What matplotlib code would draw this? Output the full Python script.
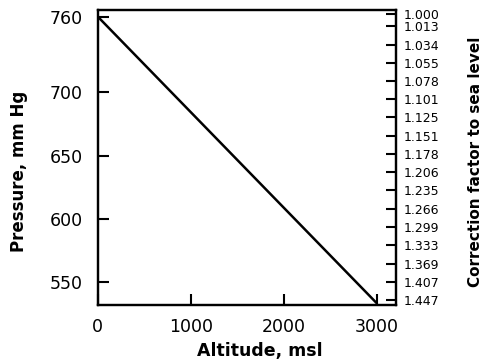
import matplotlib
matplotlib.use("Agg")
import matplotlib.pyplot as plt

# Data
altitude = [0, 3000]            # m above mean sea level
pressure = [760, 533]           # mm Hg
x_ticks = [0, 1000, 2000, 3000]
y_ticks = [550, 600, 650, 700, 760]
correction = ["1.000", "1.013", "1.034", "1.055", "1.078", "1.101", "1.125",
              "1.151", "1.178", "1.206", "1.235", "1.266", "1.299", "1.333",
              "1.369", "1.407", "1.447"]

fig = plt.figure(figsize=(4.82, 3.62), dpi=100)
ax = fig.add_axes([0.203, 0.157, 0.619, 0.815])

ax.plot(altitude, pressure, color='black', linewidth=1.8, solid_capstyle='butt')
ax.set_xlim(0, 3210)
ax.set_ylim(531.4, 765.2)

ax.set_xticks(x_ticks)
ax.set_yticks(y_ticks)
ax.tick_params(direction='in', length=8, width=1.5, labelsize=12.5)
ax.tick_params(axis='y', pad=11)
ax.tick_params(axis='x', pad=9)

for s in ax.spines.values():
    s.set_linewidth(1.6)

ax.set_xlabel('Altitude, msl', fontsize=12.5, fontweight='bold')
ax.set_ylabel('Pressure, mm Hg', fontsize=12, fontweight='bold')
ax.xaxis.set_label_coords(0.544, -0.125)
ax.yaxis.set_label_coords(-0.235, 0.454)

# Right axis: correction factor = 760 / pressure
ax2 = ax.twinx()
ax2.set_ylim(521, 763.5)
ax2.set_yticks([760 / float(c) for c in correction])
ax2.set_yticklabels(correction)
ax2.tick_params(direction='in', length=7, width=1.5, labelsize=9, pad=5.5)
ax2.set_ylabel('Correction factor to sea level', fontsize=11, fontweight='bold')
ax2.yaxis.set_label_coords(1.242, 0.485)
for s in ax2.spines.values():
    s.set_linewidth(1.6)

plt.savefig("out.png", dpi=100)
